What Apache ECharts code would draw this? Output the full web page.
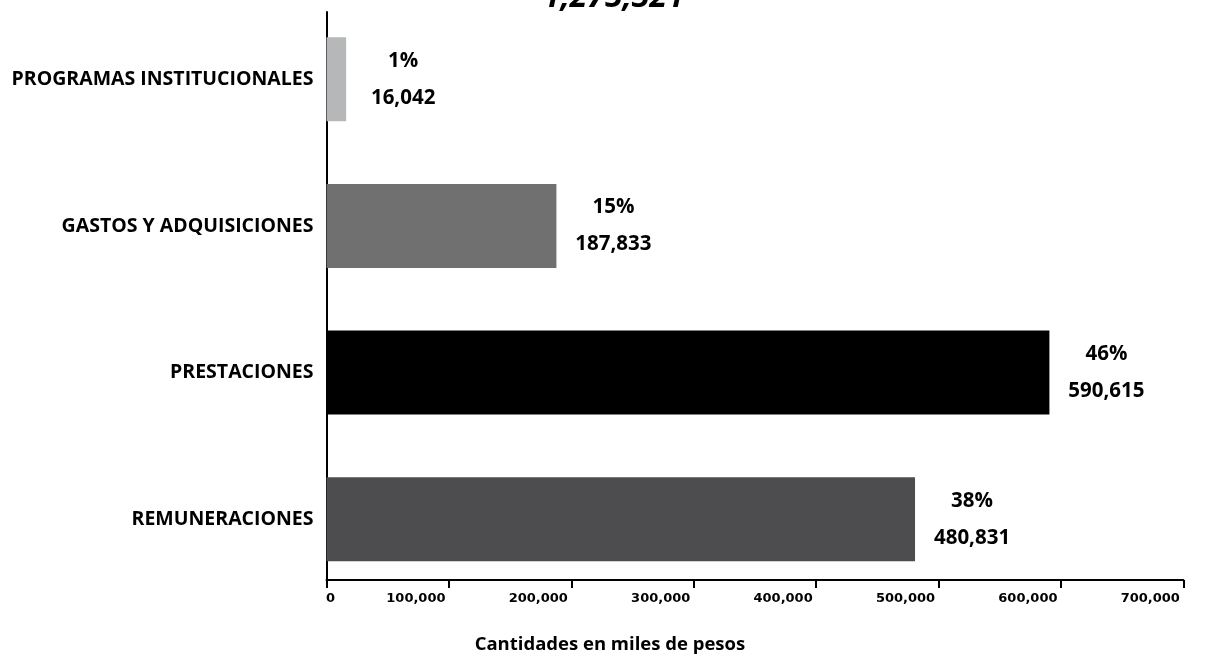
<!DOCTYPE html>
<html>
<head>
<meta charset="utf-8">
<script src="https://cdn.jsdelivr.net/npm/echarts@6/dist/echarts.min.js"></script>
<style>
html,body{margin:0;padding:0;background:#fff;}
#chart{width:1209px;height:659px;}
</style>
</head>
<body>
<div id="chart"></div>
<script>
const categories = ['REMUNERACIONES', 'PRESTACIONES', 'GASTOS Y ADQUISICIONES', 'PROGRAMAS INSTITUCIONALES'];
const values = [480831, 590615, 187833, 16042];
const percentLabels = ['38%', '46%', '15%', '1%'];
const barColors = ['#4D4D4F', '#000000', '#707070', '#B5B7B9'];
const xTickValues = [0, 100000, 200000, 300000, 400000, 500000, 600000, 700000];
const titleText = '1,275,321';
const xAxisName = 'Cantidades en miles de pesos';

const fmt = v => v.toLocaleString('en-US');
const FONT = '"Open Sans", sans-serif';

const chart = echarts.init(document.getElementById('chart'), null, {renderer: 'canvas'});
chart.setOption({
  backgroundColor: '#fff',
  animation: false,
  title: {
    text: titleText,
    left: 543, top: -18, padding: 0,
    textStyle: {fontFamily: FONT, fontSize: 32, fontWeight: 'bold', fontStyle: 'italic', color: '#000'}
  },
  grid: [
    {left: 326.5, right: 25.7, top: 12, bottom: 77},
    {left: 326.5, right: 25.7, top: 6, bottom: 66.5}
  ],
  xAxis: [
    {
      gridIndex: 0, type: 'value', min: xTickValues[0], max: xTickValues[xTickValues.length - 1], interval: xTickValues[1] - xTickValues[0],
      axisLine: {show: true, lineStyle: {color: '#000', width: 2}},
      axisTick: {show: true, length: 8, lineStyle: {color: '#000', width: 2}},
      splitLine: {show: false},
      axisLabel: {
        margin: 12, align: 'center',
        formatter: v => v === 0 ? '{z|0}' : '{v|' + fmt(v) + '}',
        rich: {
          z: {fontFamily: 'DejaVu Sans', fontWeight: 'bold', fontSize: 13, color: '#000', padding: [0, 0, 0, 8]},
          v: {fontFamily: 'DejaVu Sans', fontWeight: 'bold', fontSize: 13, color: '#000', padding: [0, 66, 0, 0]}
        }
      },
      name: xAxisName, nameLocation: 'middle', nameGap: 55,
      nameTextStyle: {fontFamily: FONT, fontWeight: 'bold', fontSize: 18.5, color: '#000', padding: [0, 290, 0, 0]}
    },
    {
      gridIndex: 1, type: 'value', min: xTickValues[0], max: xTickValues[xTickValues.length - 1], show: false
    }
  ],
  yAxis: [
    {
      gridIndex: 0, type: 'value', min: 0, max: 1,
      axisLine: {show: true, lineStyle: {color: '#000', width: 2}},
      axisTick: {show: false}, axisLabel: {show: false}, splitLine: {show: false}
    },
    {
      gridIndex: 1, type: 'category', data: categories,
      axisLine: {show: false}, axisTick: {show: false}, splitLine: {show: false},
      axisLabel: {margin: 13, fontFamily: FONT, fontWeight: 'bold', fontSize: 19.5, color: '#000'}
    }
  ],
  series: [{
    type: 'bar', xAxisIndex: 1, yAxisIndex: 1,
    barWidth: 84,
    data: values.map((v, i) => ({value: v, itemStyle: {color: barColors[i]}})),
    label: {
      show: true, position: 'right', distance: 12,
      formatter: p => '{p|' + percentLabels[p.dataIndex] + '}\n{v|' + fmt(p.value) + '}',
      rich: {
        p: {width: 90, align: 'center', fontFamily: FONT, fontWeight: 'bold', fontSize: 20.5, lineHeight: 37, color: '#000'},
        v: {width: 90, align: 'center', fontFamily: FONT, fontWeight: 'bold', fontSize: 20.5, lineHeight: 37, color: '#000'}
      }
    }
  }]
});
</script>
</body>
</html>
